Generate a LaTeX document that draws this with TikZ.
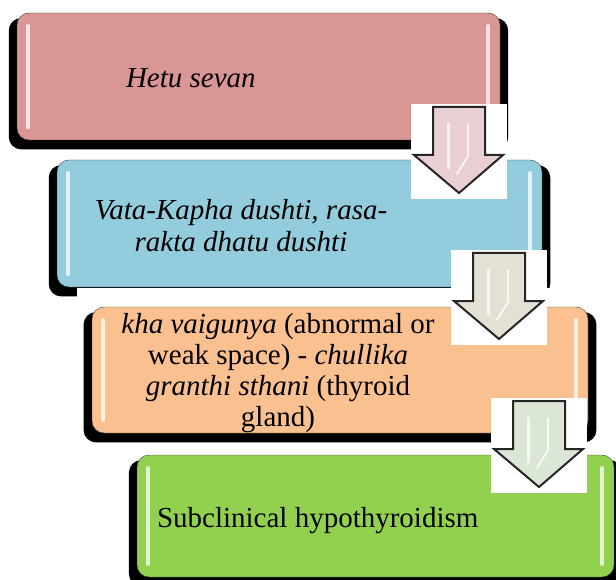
\documentclass[tikz,border=0pt]{standalone}
\usepackage{fontspec}
\setmainfont{Liberation Serif}
\usepackage{tikz}
\usetikzlibrary{%
   calc,%
   positioning,%
   shadows}
\definecolor{hetufarbe}{HTML}{D99694}
\definecolor{vatafarbe}{HTML}{93CDDD}
\definecolor{khafarbe}{HTML}{FAC090}
\definecolor{subfarbe}{HTML}{92D050}
\definecolor{pfeilrot}{HTML}{E8D0D2}
\definecolor{pfeilgrau}{HTML}{E5E0D4}
\definecolor{pfeilgruen}{HTML}{DCE6D6}

\begin{document}
\begin{tikzpicture}
[x=1pt, y=-1pt,
 font=\fontsize{29}{32}\selectfont,
 box/.style={draw=black!75, thin, rounded corners=12pt,
   general shadow={fill=black, shadow yshift=-7pt, shadow scale=1.034}},
 txt/.style={inner sep=0pt, align=center},
 glanz/.style={white, line width=3.5pt, line cap=round, opacity=0.75},
 pfeil/.style={draw=black!85, line width=2pt, line join=miter}]
\useasboundingbox (0,0) rectangle (616,580);
\node (hetusev) [box, fill=hetufarbe, minimum width=483pt, minimum height=127pt] at (258.5,76.5) {};
\node (vatakap) [box, fill=vatafarbe, minimum width=485pt, minimum height=127pt] at (299.5,223.5) {};
\fill[white] ($(vatakap.south west)+(20,1)$) rectangle ($(vatakap.south east)+(12,12)$);
\node (khavaig) [box, fill=khafarbe, minimum width=496pt, minimum height=126pt] at (340,370) {};
\node (subclin) [box, fill=subfarbe, minimum width=477pt, minimum height=122pt] at (375.5,516) {};
% glossy edges
\foreach \b in {hetusev,vatakap,khavaig,subclin} {
  \draw[glanz] ($(\b.north west)+(11,13)$) -- ($(\b.south west)+(11,-13)$);
  \draw[glanz] ($(\b.north east)+(-12,13)$) -- ($(\b.south east)+(-12,-13)$);
}
\node (hetutxt) [txt, anchor=west] at ($(hetusev.west)+(109,1.5)$) {\textit{Hetu sevan}};
\node (vatatxt) [txt] at ($(vatakap.center)+(-58.5,2.5)$) {\textit{Vata-Kapha dushti, rasa-}\\ \textit{rakta dhatu dushti}};
\node (khatxt) [txt, font=\fontsize{29}{31}\selectfont] at ($(khavaig.center)+(-62,3)$) {\textit{kha vaigunya} (abnormal or\\ weak space) - \textit{chullika}\\ \textit{granthi sthani} (thyroid\\ gland)};
\node (subtxt) [txt, anchor=west] at ($(subclin.west)+(20,5)$) {Subclinical hypothyroidism};
% block arrows
\foreach \px/\py/\pf in {411/104/pfeilrot, 451/250/pfeilgrau, 491/398/pfeilgruen} {
  \fill[white] (\px,\py) rectangle ++(96,95);
  \draw[pfeil, fill=\pf] (\px+22,\py+3) -- ++(52,0) -- ++(0,48) -- ++(18,0) -- (\px+48,\py+89) -- (\px+3,\py+51) -- ++(19,0) -- cycle;
  \draw[glanz, line width=3pt] (\px+37,\py+20) -- (\px+37,\py+64);
  \draw[glanz, line width=2pt] (\px+57,\py+20) -- (\px+57,\py+52) -- (\px+46,\py+70);
}
\end{tikzpicture}
\end{document}
